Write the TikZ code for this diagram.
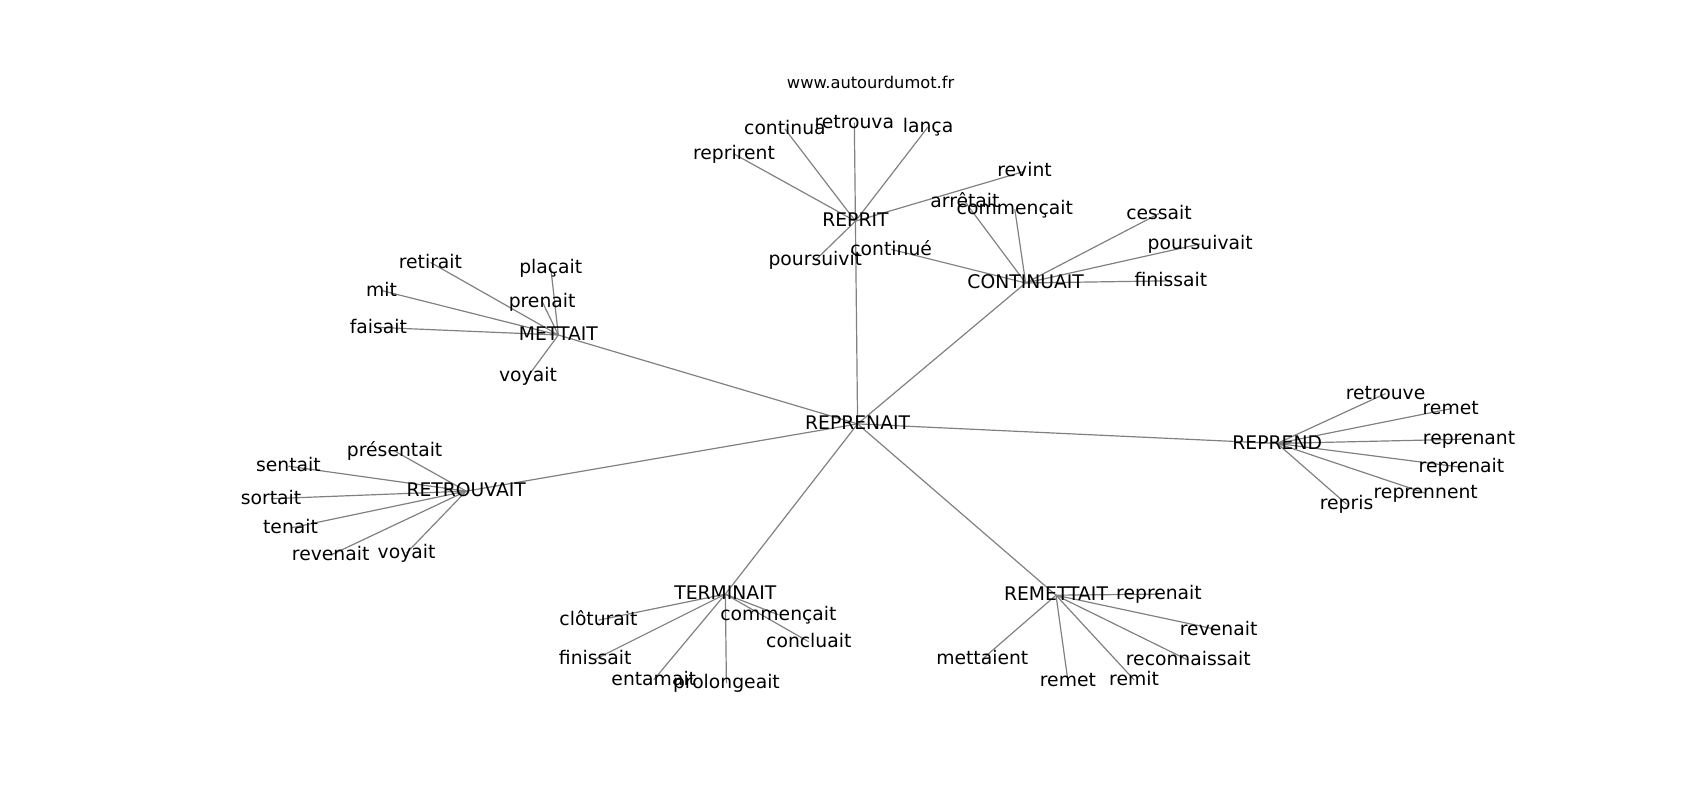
\documentclass[tikz,border=0pt]{standalone}
\usepackage{fontspec}
\setmainfont{DejaVu Sans}
\usetikzlibrary{positioning,backgrounds}

\begin{document}
\begin{tikzpicture}[x=0.5pt,y=-0.5pt,every node/.style={inner sep=0pt,text height=0.76em,text depth=0.24em,font=\fontsize{8.65}{10}\selectfont},edge/.style={draw=gray,line width=0.55pt}]

		\useasboundingbox (0,0) rectangle (1568,738);

		%site
		\node[font=\fontsize{7.5}{9}\selectfont] (w) at (803,76) {www.autourdumot.fr};

		%center and hubs
		\node (c) at (791,391) {REPRENAIT};
		\node (h1) at (789,204) {REPRIT};
		\node (h2) at (946,261) {CONTINUAIT};
		\node (h3) at (515,309) {METTAIT};
		\node (h4) at (430,453) {RETROUVAIT};
		\node (h5) at (669,548) {TERMINAIT};
		\node (h6) at (974,549) {REMETTAIT};
		\node (h7) at (1178,409) {REPREND};

		%REPRIT nodes
		\node (a1) at (677,142) {reprirent};
		\node (a2) at (724,119) {continua};
		\node (a3) at (788,113) {retrouva};
		\node (a4) at (856,117) {lança};
		\node (a5) at (945,158) {revint};
		\node (a6) at (752,240) {poursuivit};

		%CONTINUAIT nodes
		\node (b1) at (890,186) {arrêtait};
		\node (b2) at (936,193) {commençait};
		\node (b3) at (1069,197) {cessait};
		\node (b4) at (1107,225) {poursuivait};
		\node (b5) at (1080,259) {finissait};
		\node (b6) at (822,230) {continué};

		%METTAIT nodes
		\node (m1) at (397,242) {retirait};
		\node (m2) at (352,268) {mit};
		\node (m3) at (349,302) {faisait};
		\node (m4) at (508,247) {plaçait};
		\node (m5) at (500,278) {prenait};
		\node (m6) at (487,347) {voyait};

		%RETROUVAIT nodes
		\node (r1) at (364,416) {présentait};
		\node (r2) at (266,430) {sentait};
		\node (r3) at (250,460) {sortait};
		\node (r4) at (268,487) {tenait};
		\node (r5) at (305,512) {revenait};
		\node (r6) at (375,510) {voyait};

		%TERMINAIT nodes
		\node (t1) at (552,572) {clôturait};
		\node (t2) at (549,608) {finissait};
		\node (t3) at (603,627) {entamait};
		\node (t4) at (670,630) {prolongeait};
		\node (t5) at (718,567) {commençait};
		\node (t6) at (746,592) {concluait};

		%REMETTAIT nodes
		\node (e1) at (1069,548) {reprenait};
		\node (e2) at (1124,581) {revenait};
		\node (e3) at (1096,609) {reconnaissait};
		\node (e4) at (1046,627) {remit};
		\node (e5) at (985,628) {remet};
		\node (e6) at (906,608) {mettaient};

		%REPREND nodes
		\node (d1) at (1278,363) {retrouve};
		\node (d2) at (1338,377) {remet};
		\node (d3) at (1355,405) {reprenant};
		\node (d4) at (1348,431) {reprenait};
		\node (d5) at (1315,455) {reprennent};
		\node (d6) at (1242,465) {repris};

		%edges
		\begin{scope}[on background layer]
		\draw[edge] (c.center) -- (h1.center);
		\draw[edge] (c.center) -- (h2.center);
		\draw[edge] (c.center) -- (h3.center);
		\draw[edge] (c.center) -- (h4.center);
		\draw[edge] (c.center) -- (h5.center);
		\draw[edge] (c.center) -- (h6.center);
		\draw[edge] (c.center) -- (h7.center);

		\draw[edge] (h1.center) -- (a1.center);
		\draw[edge] (h1.center) -- (a2.center);
		\draw[edge] (h1.center) -- (a3.center);
		\draw[edge] (h1.center) -- (a4.center);
		\draw[edge] (h1.center) -- (a5.center);
		\draw[edge] (h1.center) -- (a6.center);

		\draw[edge] (h2.center) -- (b1.center);
		\draw[edge] (h2.center) -- (b2.center);
		\draw[edge] (h2.center) -- (b3.center);
		\draw[edge] (h2.center) -- (b4.center);
		\draw[edge] (h2.center) -- (b5.center);
		\draw[edge] (h2.center) -- (b6.center);

		\draw[edge] (h3.center) -- (m1.center);
		\draw[edge] (h3.center) -- (m2.center);
		\draw[edge] (h3.center) -- (m3.center);
		\draw[edge] (h3.center) -- (m4.center);
		\draw[edge] (h3.center) -- (m5.center);
		\draw[edge] (h3.center) -- (m6.center);

		\draw[edge] (h4.center) -- (r1.center);
		\draw[edge] (h4.center) -- (r2.center);
		\draw[edge] (h4.center) -- (r3.center);
		\draw[edge] (h4.center) -- (r4.center);
		\draw[edge] (h4.center) -- (r5.center);
		\draw[edge] (h4.center) -- (r6.center);

		\draw[edge] (h5.center) -- (t1.center);
		\draw[edge] (h5.center) -- (t2.center);
		\draw[edge] (h5.center) -- (t3.center);
		\draw[edge] (h5.center) -- (t4.center);
		\draw[edge] (h5.center) -- (t5.center);
		\draw[edge] (h5.center) -- (t6.center);

		\draw[edge] (h6.center) -- (e1.center);
		\draw[edge] (h6.center) -- (e2.center);
		\draw[edge] (h6.center) -- (e3.center);
		\draw[edge] (h6.center) -- (e4.center);
		\draw[edge] (h6.center) -- (e5.center);
		\draw[edge] (h6.center) -- (e6.center);

		\draw[edge] (h7.center) -- (d1.center);
		\draw[edge] (h7.center) -- (d2.center);
		\draw[edge] (h7.center) -- (d3.center);
		\draw[edge] (h7.center) -- (d4.center);
		\draw[edge] (h7.center) -- (d5.center);
		\draw[edge] (h7.center) -- (d6.center);
		\end{scope}

\end{tikzpicture}
\end{document}
